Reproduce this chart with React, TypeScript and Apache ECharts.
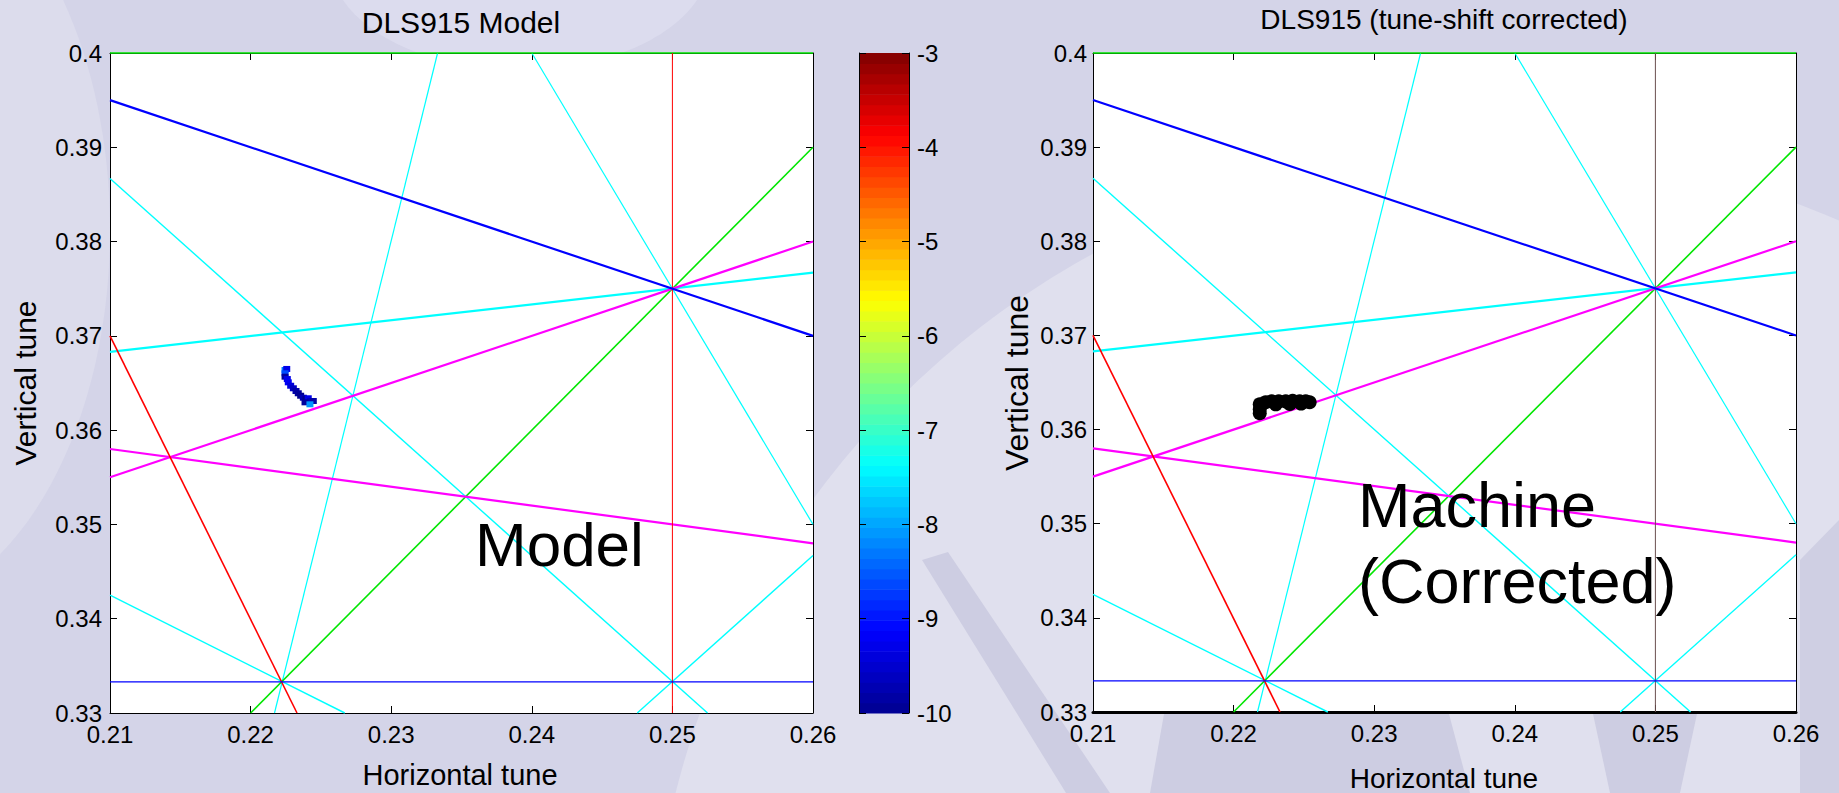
import React, { useEffect, useRef } from "react";
import * as echarts from "echarts";

// Tune window and tick spacing
const qxRange = [0.21, 0.26];
const qyRange = [0.33, 0.4];
const tickStep = 0.01;

// Colour scale of the diffusion map (log10), MATLAB "jet"
const diffusionRange = [-10, -3];
const jetStops = ["#00008f", "#0000ff", "#0080ff", "#00ffff", "#80ff80", "#ffff00", "#ff8000", "#ff0000", "#800000"];
const colorbarLevels = 64;

// Resonance lines m·Qx + n·Qy = p, as their end points inside the window
const thirdOrder = [
  [[0.21, 0.395], [0.26, 0.37]], // Qx + 2Qy = 1
  [[0.21, 0.3333], [0.26, 0.3333]], // 3Qy = 1
];
const fourthOrder = [
  [[0.21, 0.37], [0.2233, 0.33]], // 3Qx + Qy = 1
  [[0.25, 0.33], [0.25, 0.4]], // 4Qx = 1
];
const fifthOrder = [
  [[0.22, 0.33], [0.26, 0.39]], // 3Qx - 2Qy = 0
  [[0.21, 0.4], [0.26, 0.4]], // 5Qy = 2
];
const sixthOrder = [
  [[0.21, 0.355], [0.26, 0.38]], // 2Qx - 4Qy = -1
  [[0.21, 0.358], [0.26, 0.348]], // Qx + 5Qy = 2
];
const seventhOrder = [
  [[0.21, 0.3867], [0.2525, 0.33]], // 4Qx + 3Qy = 2
  [[0.2333, 0.4], [0.2217, 0.33]], // 6Qx - Qy = 1
  [[0.24, 0.4], [0.26, 0.35]], // 5Qx + 2Qy = 2
  [[0.21, 0.3683], [0.26, 0.3767]], // Qx - 6Qy = -2
  [[0.21, 0.3425], [0.2267, 0.33]], // 3Qx + 4Qy = 2
  [[0.2475, 0.33], [0.26, 0.3467]], // 4Qx - 3Qy = 0
];

// Model tune footprint: [Qx, Qy, log10 diffusion]
const modelTunes = [
  [0.22245, 0.36638, -8.3],
  [0.22257, 0.36649, -9.3],
  [0.22245, 0.36603, -8.6],
  [0.22245, 0.36567, -9.9],
  [0.22261, 0.36542, -9.3],
  [0.22268, 0.36507, -9.2],
  [0.22285, 0.36471, -9.4],
  [0.22304, 0.36444, -9.6],
  [0.22323, 0.36415, -9.8],
  [0.22339, 0.36391, -9.9],
  [0.22356, 0.36365, -10],
  [0.22375, 0.36344, -9.7],
  [0.22394, 0.3633, -10],
  [0.2241, 0.36338, -9.3],
  [0.22427, 0.36309, -9.6],
  [0.22387, 0.36295, -9.9],
  [0.22446, 0.36309, -9.8],
  [0.22422, 0.36274, -8.1],
];

// Measured tunes after tune-shift correction: [Qx, Qy]
const machineTunes = [
  [0.22186, 0.36268],
  [0.22186, 0.36215],
  [0.22186, 0.36173],
  [0.22228, 0.3629],
  [0.22271, 0.363],
  [0.22321, 0.363],
  [0.22371, 0.363],
  [0.2242, 0.36306],
  [0.2247, 0.363],
  [0.22513, 0.363],
  [0.22541, 0.3629],
  [0.223, 0.36268],
  [0.224, 0.36272],
  [0.2248, 0.36276],
];

const FONT = "'Liberation Sans', Arial, Helvetica, sans-serif";

type LineSet = { lines: number[][][]; color: string; widths: number[] };

function App() {
  const ref = useRef<HTMLDivElement>(null);

  useEffect(() => {
    if (!ref.current) return;
    const chart = echarts.init(ref.current, null, { renderer: "svg" });

    const labelStyle = { color: "#000", fontSize: 24, lineHeight: 18, fontFamily: FONT };
    const tick = { show: true, inside: true, length: 7, lineStyle: { color: "#000", width: 1 } };

    const plotAxes = (grid: number, bottomWidth: number, yMargin: number) => {
      const x = [
        {
          gridIndex: grid, type: "value", position: "bottom",
          min: qxRange[0], max: qxRange[1], interval: tickStep,
          axisLine: { show: true, onZero: false, lineStyle: { color: "#000", width: bottomWidth } },
          axisTick: tick, axisLabel: { ...labelStyle, margin: 12 }, splitLine: { show: false },
        },
        {
          gridIndex: grid, type: "value", position: "top",
          min: qxRange[0], max: qxRange[1], interval: tickStep,
          axisLine: { show: true, onZero: false, lineStyle: { color: "#000", width: 1 } },
          axisTick: tick, axisLabel: { show: false }, splitLine: { show: false },
        },
      ];
      const y = [
        {
          gridIndex: grid, type: "value", position: "left",
          min: qyRange[0], max: qyRange[1], interval: tickStep,
          axisLine: { show: true, onZero: false, lineStyle: { color: "#000", width: 1 } },
          axisTick: tick, axisLabel: { ...labelStyle, margin: yMargin }, splitLine: { show: false },
        },
        {
          gridIndex: grid, type: "value", position: "right",
          min: qyRange[0], max: qyRange[1], interval: tickStep,
          axisLine: { show: true, onZero: false, lineStyle: { color: "#000", width: 1 } },
          axisTick: tick, axisLabel: { show: false }, splitLine: { show: false },
        },
      ];
      return { x, y };
    };

    const leftAxes = plotAxes(0, 1, 8);
    const rightAxes = plotAxes(2, 3, 6);

    const xAxis = [
      ...leftAxes.x, // 0, 1
      { gridIndex: 1, type: "value", min: 0, max: 1, show: false }, // 2
      ...rightAxes.x, // 3, 4
    ];
    const yAxis = [
      ...leftAxes.y, // 0, 1
      {
        gridIndex: 1, type: "value", position: "right", z: 5,
        min: diffusionRange[0], max: diffusionRange[1], interval: 1,
        axisLine: { show: true, onZero: false, lineStyle: { color: "#000", width: 1 } },
        axisTick: tick, axisLabel: { ...labelStyle, margin: 8 }, splitLine: { show: false },
      }, // 2
      {
        gridIndex: 1, type: "value", position: "left", z: 5,
        min: diffusionRange[0], max: diffusionRange[1], interval: 1,
        axisLine: { show: true, onZero: false, lineStyle: { color: "#000", width: 1 } },
        axisTick: tick, axisLabel: { show: false }, splitLine: { show: false },
      }, // 3
      ...rightAxes.y, // 4, 5
    ];

    // colour bar bands
    const span = diffusionRange[1] - diffusionRange[0];
    const bands: number[][] = [];
    for (let i = 0; i < colorbarLevels; i++) {
      const lo = diffusionRange[0] + (span * i) / colorbarLevels;
      const hi = diffusionRange[0] + (span * (i + 1)) / colorbarLevels;
      bands.push([lo, hi, (lo + hi) / 2]);
    }

    const leftVertical = "#ff0000";
    const rightVertical = "#6b5050";
    const lineSets: LineSet[] = [
      { lines: seventhOrder, color: "#00ffff", widths: [1.4, 1.2, 1.2, 2.2, 1.4, 1.4] },
      { lines: fifthOrder, color: "#00e600", widths: [1.6, 1.6] },
      { lines: sixthOrder, color: "#ff00ff", widths: [2.2, 2.2] },
      { lines: fourthOrder, color: "#ff0000", widths: [1.6, 1] },
      { lines: thirdOrder, color: "#0000ff", widths: [2.2, 1.2] },
    ];

    const resonanceSeries = (xi: number, yi: number, verticalColor: string) => {
      const out: any[] = [];
      lineSets.forEach((set) => {
        set.lines.forEach((pts, k) => {
          const isVertical = set.lines === fourthOrder && k === 1;
          out.push({
            type: "line",
            xAxisIndex: xi,
            yAxisIndex: yi,
            data: pts,
            symbol: "none",
            silent: true,
            clip: false,
            z: 3,
            lineStyle: { color: isVertical ? verticalColor : set.color, width: set.widths[k] },
          });
        });
      });
      return out;
    };

    const series: any[] = [
      {
        type: "custom",
        xAxisIndex: 2,
        yAxisIndex: 2,
        dimensions: ["lo", "hi", "level"],
        encode: { y: ["lo", "hi"] },
        data: bands,
        silent: true,
        z: 2,
        renderItem: (_p: any, api: any) => {
          const a = api.coord([0, api.value(0)]);
          const b = api.coord([1, api.value(1)]);
          return {
            type: "rect",
            shape: { x: a[0], y: b[1], width: b[0] - a[0], height: a[1] - b[1] + 0.6 },
            style: { fill: api.visual("color") },
          };
        },
      },
      {
        type: "scatter",
        xAxisIndex: 0,
        yAxisIndex: 0,
        data: modelTunes,
        symbol: "rect",
        symbolSize: [7, 6],
        itemStyle: { opacity: 1 },
        silent: true,
        z: 6,
      },
      ...resonanceSeries(0, 0, leftVertical),
      ...resonanceSeries(3, 4, rightVertical),
      {
        type: "scatter",
        xAxisIndex: 3,
        yAxisIndex: 4,
        data: machineTunes,
        symbol: "circle",
        symbolSize: 14,
        itemStyle: { color: "#000", opacity: 1 },
        silent: true,
        z: 6,
      },
    ];

    const text = (t: string, x: number, y: number, size: number, align: string, rotation = 0) => ({
      type: "text",
      x,
      y,
      rotation,
      z: 50,
      silent: true,
      style: {
        text: t,
        fill: "#000",
        fontSize: size,
        fontFamily: FONT,
        align,
        textAlign: align,
        verticalAlign: "middle",
        textVerticalAlign: "middle",
      },
    });

    chart.setOption({
      animation: false,
      backgroundColor: "#d4d4e8",
      grid: [
        { left: 110, top: 53, width: 703, height: 660, show: true, backgroundColor: "#ffffff", borderWidth: 0 },
        { left: 859, top: 53, width: 50, height: 660, show: false },
        { left: 1093, top: 53, width: 703, height: 659, show: true, backgroundColor: "#ffffff", borderWidth: 0 },
      ],
      xAxis,
      yAxis,
      visualMap: [
        {
          type: "continuous",
          show: false,
          min: diffusionRange[0],
          max: diffusionRange[1],
          dimension: 2,
          seriesIndex: [0, 1],
          inRange: { color: jetStops },
        },
      ],
      series,
      graphic: [
        // slide backdrop
        { type: "circle", z: -10, silent: true, shape: { cx: 1500, cy: 1000, r: 850 }, style: { fill: "#e0e0ee" } },
        { type: "ellipse", z: -10, silent: true, shape: { cx: -120, cy: 230, rx: 230, ry: 380 }, style: { fill: "#dcdcec" } },
        { type: "ellipse", z: -10, silent: true, shape: { cx: 520, cy: -40, rx: 190, ry: 110 }, style: { fill: "#dcdcee" } },
        { type: "polygon", z: -9, silent: true, shape: { points: [[922, 560], [948, 552], [1110, 793], [1066, 793]] }, style: { fill: "#cdcde2" } },
        { type: "polygon", z: -9, silent: true, shape: { points: [[1170, 680], [1440, 680], [1470, 793], [1150, 793]] }, style: { fill: "#cdcde2" } },
        { type: "polygon", z: -9, silent: true, shape: { points: [[1590, 700], [1700, 700], [1680, 793], [1610, 793]] }, style: { fill: "#cdcde2" } },
        { type: "polygon", z: -9, silent: true, shape: { points: [[1800, 560], [1839, 520], [1839, 793], [1800, 793]] }, style: { fill: "#cfcfe3" } },
        // titles and axis names
        text("DLS915 Model", 461, 22, 30, "center"),
        text("DLS915 (tune-shift corrected)", 1444, 19, 28, "center"),
        text("Horizontal tune", 460, 775, 29, "center"),
        text("Horizontal tune", 1444, 778, 28, "center"),
        text("Vertical tune", 25, 383, 30, "center", Math.PI / 2),
        text("Vertical tune", 1017, 383, 32, "center", Math.PI / 2),
        // panel annotations
        text("Model", 475, 544, 62, "left"),
        text("Machine", 1358, 505, 63, "left"),
        text("(Corrected)", 1358, 581, 63, "left"),
      ],
    });

    return () => chart.dispose();
  }, []);

  return (
    <div
      ref={ref}
      style={{ position: "absolute", left: 0, top: 0, width: 1839, height: 793 }}
    />
  );
}

export default App;
